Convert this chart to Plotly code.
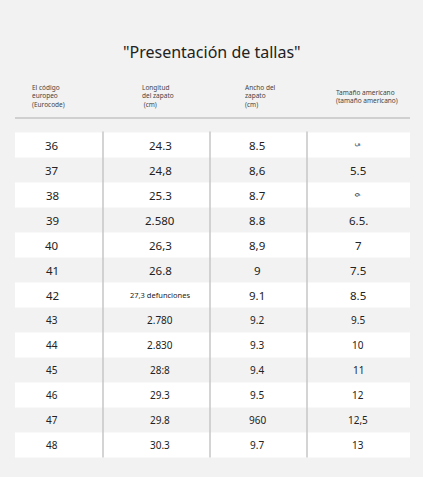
import plotly.graph_objects as go

title = '"Presentación de tallas"'
headers = ["El código<br>europeo<br>(Eurocode)", "Longitud<br>del zapato<br> (cm)",
           "Ancho del<br>zapato<br>(cm)", "Tamaño americano<br>(tamaño americano)"]
eu = ["36", "37", "38", "39", "40", "41", "42", "43", "44", "45", "46", "47", "48"]
length = ["24.3", "24,8", "25.3", "2.580", "26,3", "26.8", "27,3 defunciones", "2.780",
          "2.830", "28:8", "29.3", "29.8", "30.3"]
width = ["8.5", "8,6", "8.7", "8.8", "8,9", "9", "9.1", "9.2", "9.3", "9.4", "9.5", "960", "9.7"]
us = ["5", "5.5", "6", "6.5.", "7", "7.5", "8.5", "9.5", "10", "11", "12", "12,5", "13"]

W, H = 423, 500
top, rh = 132.5, 25.0
colx = [52, 160, 257, 358]
seps = [103, 210, 307]
hx = [30, 140, 243, 334]
font = "Noto Sans, Open Sans, sans-serif"

fig = go.Figure()
fig.add_trace(go.Scatter(x=[0, W], y=[0, H], mode="markers", marker=dict(opacity=0), hoverinfo="skip"))
shapes = [dict(type="rect", x0=0, x1=W, y0=0, y1=477, fillcolor="#f2f2f2", line_width=0, layer="below")]
ann = [dict(x=W / 2, y=52, text=title, showarrow=False, font=dict(size=16, color="#222", family=font))]
for j, h in enumerate(headers):
    ann.append(dict(x=hx[j], y=96, text=h, showarrow=False, xanchor="left", align="left",
                    font=dict(size=6.5, color="#444", family=font)))
shapes.append(dict(type="line", x0=15, x1=410, y0=118, y1=118, line=dict(color="#c4c4c4", width=1.5)))
for i in range(len(eu)):
    y0 = top + i * rh
    if i % 2 == 0:
        shapes.append(dict(type="rect", x0=15, x1=410, y0=y0, y1=y0 + rh, fillcolor="white",
                           line_width=0, layer="below"))
    yc = y0 + rh / 2
    sz = 11.5 if i < 7 else 10
    vals = [eu[i], length[i], width[i], us[i]]
    for j, v in enumerate(vals):
        s = sz
        ang = 0
        if j == 1 and "defunciones" in v:
            s = 7.5
        if j == 3 and v in ("5", "6"):
            s = 6.5
            ang = 90
        ann.append(dict(x=colx[j], y=yc, text=v, showarrow=False, textangle=ang,
                        font=dict(size=s, color="#222", family=font)))
for sx in seps:
    shapes.append(dict(type="line", x0=sx, x1=sx, y0=top - 1, y1=top + rh * len(eu),
                       line=dict(color="#c6c6c6", width=1.5)))

fig.update_layout(width=W, height=H, margin=dict(l=0, r=0, t=0, b=0), paper_bgcolor="white",
                  plot_bgcolor="rgba(0,0,0,0)", showlegend=False, shapes=shapes, annotations=ann,
                  xaxis=dict(range=[0, W], visible=False, fixedrange=True),
                  yaxis=dict(range=[H, 0], visible=False, fixedrange=True))
fig.write_html("out.html", config={"displayModeBar": False},
               post_script="document.body.style.margin='0';document.body.style.overflow='hidden';")
